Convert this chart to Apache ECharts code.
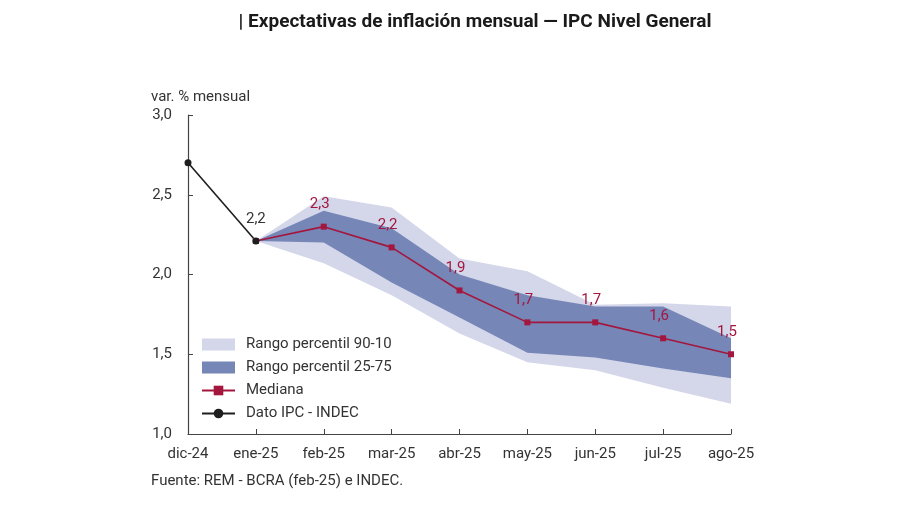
<!DOCTYPE html>
<html>
<head>
<meta charset="utf-8">
<script src="https://cdn.jsdelivr.net/npm/echarts@6/dist/echarts.min.js"></script>
<style>html,body{margin:0;padding:0;background:#fff}#c{width:900px;height:505px}</style>
</head>
<body>
<div id="c"></div>
<script>
var categories = ['dic-24','ene-25','feb-25','mar-25','abr-25','may-25','jun-25','jul-25','ago-25'];
var ipc = [2.7, 2.21, null, null, null, null, null, null, null];
var mediana = [null, 2.21, 2.3, 2.17, 1.9, 1.7, 1.7, 1.6, 1.5];
var p10 = [null, 2.21, 2.07, 1.87, 1.63, 1.45, 1.4, 1.29, 1.19];
var p90 = [null, 2.21, 2.49, 2.42, 2.1, 2.02, 1.81, 1.82, 1.8];
var p25 = [null, 2.21, 2.2, 1.95, 1.73, 1.51, 1.48, 1.41, 1.35];
var p75 = [null, 2.21, 2.4, 2.29, 2.0, 1.87, 1.8, 1.8, 1.6];
var yTicks = [1.0, 1.5, 2.0, 2.5, 3.0];

var LIGHT = '#d4d7ea', DARK = '#7686b6', RED = '#a3173f', BLACK = '#1e1e1e';
function diff(a, b) { return a.map(function (v, i) { return v == null ? null : +(b[i] - v).toFixed(3); }); }
function fmt(v) { return (+v).toFixed(1).replace('.', ','); }

var chart = echarts.init(document.getElementById('c'), null, {renderer: 'canvas'});
chart.setOption({
  animation: false,
  textStyle: {fontFamily: 'Roboto'},
  title: [{
    text: '| Expectativas de inflación mensual — IPC Nivel General',
    left: 470, top: 8, textAlign: 'center',
    textStyle: {fontSize: 19, fontWeight: 'bold', color: '#1a1a1a', fontFamily: 'Roboto'}
  }, {
    text: 'var. % mensual', left: 146, top: 85,
    textStyle: {fontSize: 15, fontWeight: 'normal', color: '#333'}
  }, {
    text: 'Fuente: REM - BCRA (feb-25) e INDEC.', left: 146, top: 469,
    textStyle: {fontSize: 15, fontWeight: 'normal', color: '#333'}
  }],
  grid: {left: 188, right: 169, top: 115, bottom: 71},
  legend: {
    orient: 'vertical', left: 196, top: 332, itemGap: 8,
    itemWidth: 33, itemHeight: 12,
    textStyle: {fontSize: 15, color: '#333', padding: [0, 0, 0, 6]},
    data: [
      {name: 'Rango percentil 90-10', icon: 'rect', itemStyle: {color: LIGHT}},
      {name: 'Rango percentil 25-75', icon: 'rect', itemStyle: {color: DARK}},
      {name: 'Mediana'},
      {name: 'Dato IPC - INDEC'}
    ]
  },
  xAxis: {
    type: 'category', data: categories, boundaryGap: false,
    axisLine: {lineStyle: {color: '#444', width: 1.2}},
    axisTick: {inside: true, length: 5, lineStyle: {color: '#444'}},
    axisLabel: {fontSize: 15, color: '#333', margin: 13}
  },
  yAxis: {
    type: 'value', min: 1, max: 3, interval: 0.5,
    splitLine: {show: false},
    axisLine: {show: true, lineStyle: {color: '#444', width: 1.2}},
    axisTick: {show: true, inside: true, length: 5, lineStyle: {color: '#444'}},
    axisLabel: {fontSize: 15, color: '#333', margin: 16, formatter: function (v) { return yTicks.indexOf(v) >= 0 ? fmt(v) : ''; }}
  },
  series: [
    {type: 'line', name: 'b90', data: p10, stack: 'light', symbol: 'none', lineStyle: {width: 0}, silent: true},
    {type: 'line', name: 'Rango percentil 90-10', data: diff(p10, p90), stack: 'light', symbol: 'none',
      lineStyle: {width: 0}, itemStyle: {color: LIGHT}, areaStyle: {color: LIGHT, opacity: 1}},
    {type: 'line', name: 'b25', data: p25, stack: 'dark', symbol: 'none', lineStyle: {width: 0}, silent: true},
    {type: 'line', name: 'Rango percentil 25-75', data: diff(p25, p75), stack: 'dark', symbol: 'none',
      lineStyle: {width: 0}, itemStyle: {color: DARK}, areaStyle: {color: DARK, opacity: 1}},
    {type: 'line', name: 'Mediana', data: mediana, symbol: 'rect', symbolSize: 6, showSymbol: true,
      lineStyle: {color: RED, width: 1.6}, itemStyle: {color: RED},
      label: {show: true, position: 'top', distance: 10, offset: [-4, -2], fontSize: 15, color: RED,
        formatter: function (p) { return p.dataIndex <= 1 ? '' : fmt(p.value); }}},
    {type: 'line', name: 'Dato IPC - INDEC', data: ipc, symbol: 'circle', symbolSize: 7,
      lineStyle: {color: BLACK, width: 1.6}, itemStyle: {color: BLACK},
      label: {show: true, position: 'top', distance: 11, fontSize: 15, color: '#333',
        formatter: function (p) { return p.dataIndex === 1 ? fmt(p.value) : ''; }}}
  ]
});
</script>
</body>
</html>
